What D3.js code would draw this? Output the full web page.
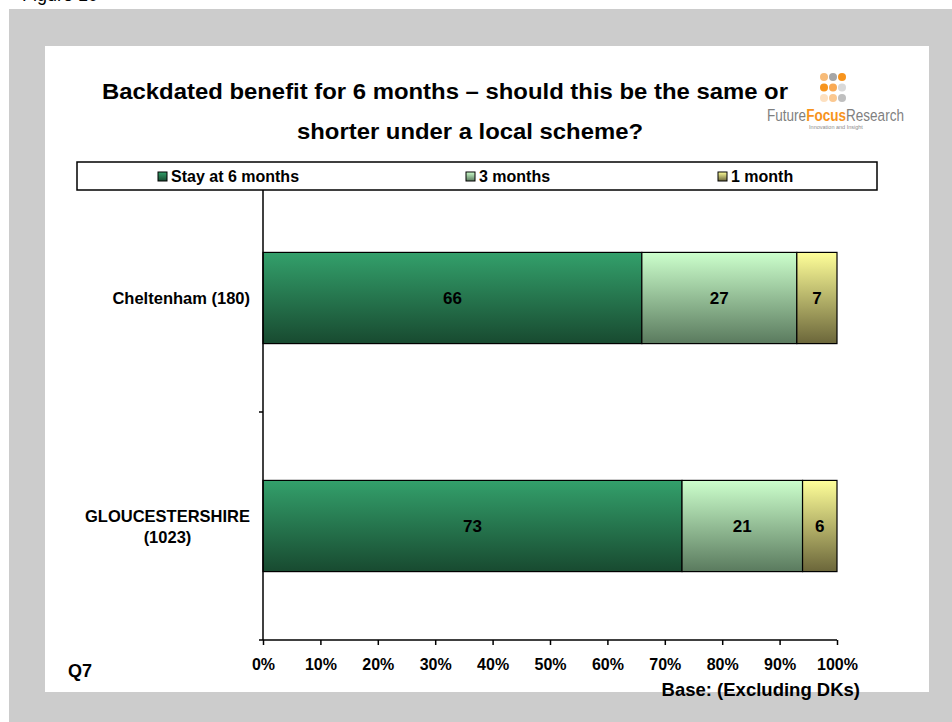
<!DOCTYPE html>
<html>
<head>
<meta charset="utf-8">
<script src="https://cdn.jsdelivr.net/npm/d3@7"></script>
<style>
  html, body { margin: 0; padding: 0; background: #ffffff; }
  svg { display: block; }
  text { font-family: "Liberation Sans", Arial, sans-serif; font-weight: bold; fill: #000; }
</style>
</head>
<body>
<svg id="chart" width="952" height="722"></svg>
<script>
// ---- data ----
const categories = ["Cheltenham (180)", "GLOUCESTERSHIRE (1023)"];
const categoryLines = [["Cheltenham (180)"], ["GLOUCESTERSHIRE", "(1023)"]];
const seriesNames = ["Stay at 6 months", "3 months", "1 month"];
const stayAt6 = [66, 73];
const threeMonths = [27, 21];
const oneMonth = [7, 6];
const xTicks = [0, 10, 20, 30, 40, 50, 60, 70, 80, 90, 100];
const titleLines = ["Backdated benefit for 6 months \u2013 should this be the same or", "shorter under a local scheme?"];

const seriesValues = [stayAt6, threeMonths, oneMonth];
const gradStops = [
  ["#33a06b", "#184a30"],
  ["#ccffcc", "#5a7a5e"],
  ["#ffff99", "#6b663a"]
];

const svg = d3.select("#chart");
const defs = svg.append("defs");
gradStops.forEach((g, i) => {
  const lg = defs.append("linearGradient").attr("id", "g" + i)
    .attr("x1", 0).attr("y1", 0).attr("x2", 0).attr("y2", 1);
  lg.append("stop").attr("offset", "0%").attr("stop-color", g[0]);
  lg.append("stop").attr("offset", "100%").attr("stop-color", g[1]);
});

// page background
svg.append("rect").attr("x", 0).attr("y", 0).attr("width", 952).attr("height", 722).attr("fill", "#ffffff");
svg.append("rect").attr("x", 9).attr("y", 9).attr("width", 943).attr("height", 713).attr("fill", "#cccccc");
svg.append("rect").attr("x", 45).attr("y", 46).attr("width", 884).attr("height", 646).attr("fill", "#ffffff");

// cut-off figure caption at very top (as in the reference)
svg.append("text").attr("x", 22).attr("y", 1).style("font-weight", "normal").style("font-size", "18px").text("Figure 10");

// title
svg.append("text").attr("x", 102).attr("y", 99).style("font-size", "22.5px")
  .attr("textLength", 686).attr("lengthAdjust", "spacingAndGlyphs").text(titleLines[0]);
svg.append("text").attr("x", 297).attr("y", 139).style("font-size", "22.5px")
  .attr("textLength", 346).attr("lengthAdjust", "spacingAndGlyphs").text(titleLines[1]);

// logo
const dotColors = [["#f7bb78", "#a6a6a6", "#f7941d"], ["#f7941d", "#f9aa55", "#d9d9d9"], ["#fde0c0", "#fbc890", "#bfbfbf"]];
dotColors.forEach((row, r) => row.forEach((c, k) => {
  svg.append("circle").attr("cx", 824 + k * 9).attr("cy", 77 + r * 10.5).attr("r", 4).attr("fill", c);
}));
const logoParts = [["Future", "#7f7f7f", "normal"], ["Focus", "#f7941d", "bold"], ["Research", "#7f7f7f", "normal"]];
const logoG = svg.append("g");
let lx = 0;
logoParts.forEach(p => {
  const t = logoG.append("text").attr("x", lx).attr("y", 0).style("font-size", "17px")
    .style("font-weight", p[2]).style("fill", p[1]).text(p[0]);
  lx += t.node().getComputedTextLength();
});
logoG.attr("transform", `translate(767,121) scale(${137 / lx},1)`);
svg.append("text").attr("x", 836).attr("y", 129).attr("text-anchor", "middle").style("font-weight", "normal")
  .style("font-size", "5.5px").style("fill", "#8c8c8c").text("Innovation and Insight");

// scales
const x = d3.scaleLinear().domain([0, 100]).range([263, 837]);
const y = d3.scaleBand().domain(categories).range([184, 640]).paddingInner(0.6).paddingOuter(0.3);

// stacked data
const stack = categories.map((c, i) => {
  let acc = 0;
  return seriesValues.map((vals, s) => {
    const d = { cat: c, s, v: vals[i], x0: acc, x1: acc + vals[i] };
    acc += vals[i];
    return d;
  });
}).flat();

svg.append("g").selectAll("rect").data(stack).join("rect")
  .attr("x", d => x(d.x0)).attr("y", d => y(d.cat))
  .attr("width", d => x(d.x1) - x(d.x0)).attr("height", y.bandwidth())
  .attr("fill", d => "url(#g" + d.s + ")")
  .attr("stroke", "#000").attr("stroke-width", 1.2);

svg.append("g").selectAll("text").data(stack).join("text")
  .attr("x", d => x((d.x0 + d.x1) / 2)).attr("y", d => y(d.cat) + y.bandwidth() / 2 + 6)
  .attr("text-anchor", "middle").style("font-size", "17px").text(d => d.v);

// x axis
const xAxis = svg.append("g").attr("transform", "translate(0,640)")
  .call(d3.axisBottom(x).tickValues(xTicks).tickSize(5).tickPadding(14).tickFormat(d => d + "%"));
xAxis.select(".domain").attr("stroke", "#000").attr("stroke-width", 1.5).attr("d", "M263,0H837");
xAxis.selectAll(".tick line").attr("stroke", "#000").attr("stroke-width", 1.5);
xAxis.selectAll(".tick text").style("font-size", "16px").style("font-family", "'Liberation Sans', Arial, sans-serif").style("font-weight", "bold").attr("fill", "#000");

// y axis (category boundaries)
const step = y.step();
const bounds = d3.range(categories.length + 1).map(i => y.range()[1] - i * step);
svg.append("line").attr("x1", 263).attr("x2", 263).attr("y1", y.range()[0]).attr("y2", 640)
  .attr("stroke", "#000").attr("stroke-width", 1.5);
svg.append("g").selectAll("line").data(bounds).join("line")
  .attr("x1", 259).attr("x2", 263).attr("y1", d => d).attr("y2", d => d)
  .attr("stroke", "#000").attr("stroke-width", 1.5);

// category labels
categories.forEach((c, i) => {
  const lines = categoryLines[i];
  const cy = y(c) + y.bandwidth() / 2;
  const lh = 21;
  const g = svg.append("g");
  const texts = lines.map((l, k) => g.append("text")
    .attr("y", cy + 6 - (lines.length - 1) * lh / 2 + k * lh)
    .style("font-size", "16.5px").text(l));
  const maxW = d3.max(texts, t => t.node().getComputedTextLength());
  texts.forEach(t => t.attr("x", 250 - maxW / 2).attr("text-anchor", "middle"));
});

// legend
svg.append("rect").attr("x", 77).attr("y", 162).attr("width", 800).attr("height", 28)
  .attr("fill", "#fff").attr("stroke", "#000").attr("stroke-width", 1.5);
const legendX = [158, 466, 718];
seriesNames.forEach((n, i) => {
  svg.append("rect").attr("x", legendX[i]).attr("y", 172).attr("width", 9).attr("height", 9)
    .attr("fill", "url(#g" + i + ")").attr("stroke", "#000").attr("stroke-width", 1);
  svg.append("text").attr("x", legendX[i] + 13).attr("y", 182).style("font-size", "16px").text(n);
});

// footer texts
svg.append("text").attr("x", 68).attr("y", 677).style("font-size", "18px").text("Q7");
svg.append("text").attr("x", 860).attr("y", 696).attr("text-anchor", "end").style("font-size", "18.5px").text("Base: (Excluding DKs)");
</script>
</body>
</html>
